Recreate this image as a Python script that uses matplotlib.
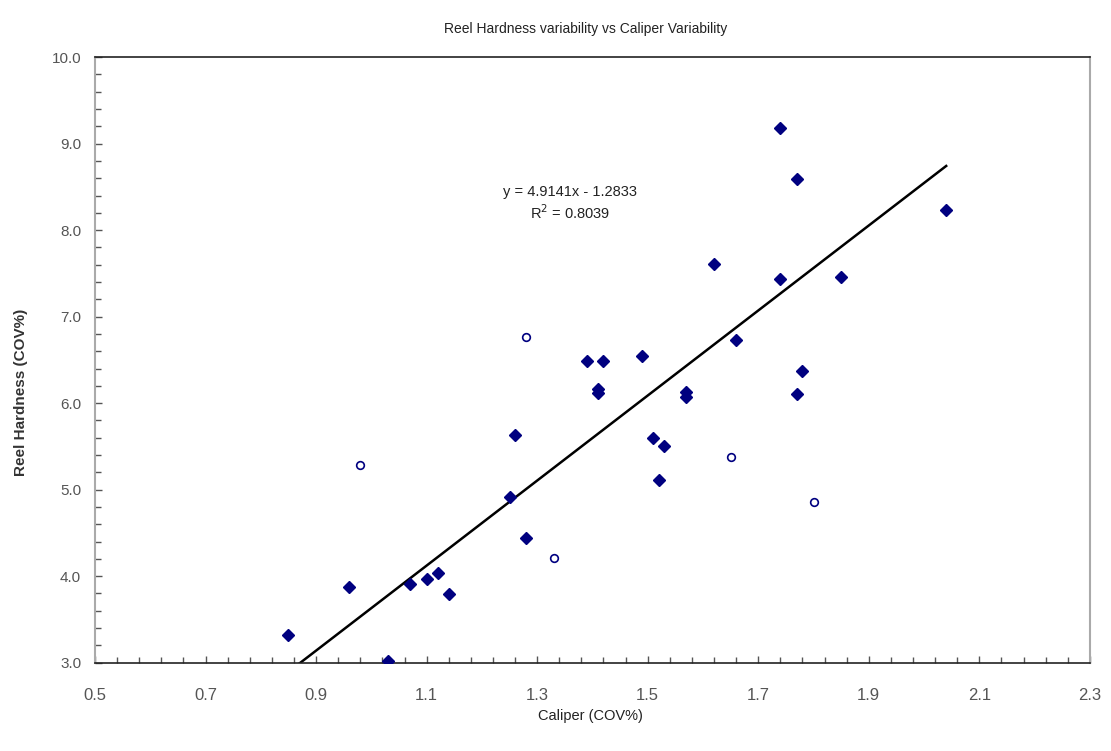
import matplotlib
matplotlib.use("Agg")
import matplotlib.pyplot as plt
from matplotlib.ticker import MultipleLocator, FixedLocator, FormatStrFormatter
import numpy as np

plt.rcParams['font.family'] = ['Liberation Sans', 'DejaVu Sans']

# Filled diamonds (main series)
caliper = [0.85, 1.03, 0.96, 1.07, 1.10, 1.12, 1.14, 1.25, 1.26, 1.28,
           1.39, 1.42, 1.41, 1.41, 1.49, 1.51, 1.53, 1.52, 1.57, 1.57,
           1.62, 1.66, 1.74, 1.74, 1.77, 1.77, 1.78, 1.85, 2.04]
hardness = [3.32, 3.02, 3.88, 3.91, 3.97, 4.04, 3.79, 4.91, 5.63, 4.44,
            6.49, 6.49, 6.16, 6.12, 6.54, 5.60, 5.51, 5.11, 6.13, 6.07,
            7.61, 6.73, 9.18, 7.44, 8.59, 6.10, 6.37, 7.46, 8.23]

# Open circles (excluded points)
caliper_out = [0.98, 1.28, 1.33, 1.65, 1.80]
hardness_out = [5.28, 6.76, 4.21, 5.38, 4.86]

# Trendline coefficients
slope = 4.9141
intercept = -1.2833
r2 = 0.8039

x_major = [0.5, 0.7, 0.9, 1.1, 1.3, 1.5, 1.7, 1.9, 2.1, 2.3]

navy = '#000080'

fig = plt.figure(figsize=(11.11, 7.51), dpi=100)
ax = fig.add_axes([0.0855, 0.1176, 0.8955, 0.8064])

ax.plot(caliper, hardness, linestyle='none', marker='D', ms=6,
        color=navy, mec=navy, zorder=3)
ax.plot(caliper_out, hardness_out, linestyle='none', marker='o', ms=5.5,
        mfc='white', mec=navy, mew=1.2, zorder=3)

xs = np.array([min(caliper), max(caliper)])
ax.plot(xs, slope * xs + intercept, color='black', lw=1.8, zorder=2)

ax.set_xlim(0.5, 2.3)
ax.set_ylim(3.0, 10.0)
ax.xaxis.set_major_locator(FixedLocator(x_major))
ax.xaxis.set_minor_locator(FixedLocator(np.arange(0.5, 2.3 + 1e-9, 0.04)))
ax.yaxis.set_major_locator(MultipleLocator(1.0))
ax.yaxis.set_minor_locator(MultipleLocator(0.2))
ax.xaxis.set_major_formatter(FormatStrFormatter('%.1f'))
ax.yaxis.set_major_formatter(FormatStrFormatter('%.1f'))

ax.tick_params(which='both', direction='in', colors='#555555', labelcolor='#555555',
               labelsize=11)
ax.tick_params(which='major', length=5, width=1)
ax.tick_params(which='minor', length=4, width=1)
ax.tick_params(axis='x', pad=18, labelsize=12)
ax.tick_params(axis='y', pad=10)

for side in ['left', 'right']:
    ax.spines[side].set_color('#aaaaaa')
    ax.spines[side].set_linewidth(1.5)
for side in ['top', 'bottom']:
    ax.spines[side].set_color('#222222')
    ax.spines[side].set_linewidth(1.2)

ax.text(1.359, 8.44, 'y = 4.9141x - 1.2833', ha='center', va='center',
        fontsize=10.5, color='#222222')
ax.text(1.359, 8.20, 'R$^2$ = 0.8039', ha='center', va='center',
        fontsize=10.5, color='#222222')

fig.text(0.527, 0.962, 'Reel Hardness variability vs Caliper Variability',
         ha='center', va='center', fontsize=10, color='#222222')
fig.text(0.531, 0.046, 'Caliper (COV%)', ha='center', va='center',
         fontsize=10.5, color='#222222')
fig.text(0.019, 0.478, 'Reel Hardness (COV%)', ha='center', va='center',
         rotation=90, fontsize=11, fontweight='bold', color='#333333')

fig.savefig('out.png', dpi=100)
